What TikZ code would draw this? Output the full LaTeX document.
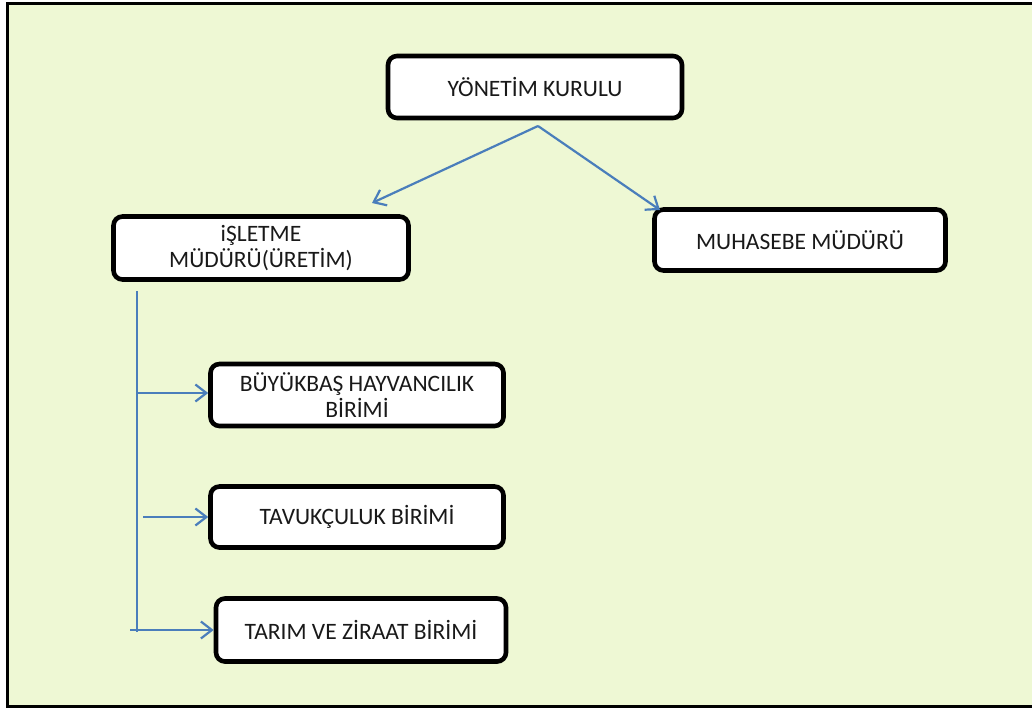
\documentclass[tikz,border=0pt]{standalone}
\usepackage{fontspec}
\setmainfont{Carlito}
\usetikzlibrary{arrows.meta}
\definecolor{bgGreen}{RGB}{238,248,212}
\definecolor{linkBlue}{RGB}{74,126,187}
\definecolor{inkGray}{RGB}{25,25,25}
\tikzset{
  unit/.style={draw=black,line width=4.6pt,fill=white,rounded corners=9pt,
    text=inkGray,font=\fontsize{23.5}{26}\selectfont,align=center,inner sep=0pt},
  link/.style={draw=linkBlue,line width=2.2pt,->,>={Straight Barb[length=11pt,width=17pt,line width=2.2pt]}}
}
\begin{document}
\begin{tikzpicture}[x=1pt,y=-1pt]
\useasboundingbox (0,0) rectangle (1032,709);
\fill[bgGreen] (7,4) rectangle (1032,706);
\draw[line width=3pt] (1032,4) -- (7,4) -- (7,706) -- (1032,706);
% boxes
\node[unit,minimum width=294pt,minimum height=62pt] (board) at (535,87) {YÖNETİM KURULU};
\node[unit,minimum width=295pt,minimum height=63pt] (plant) at (261,248) {iŞLETME\\MÜDÜRÜ(ÜRETİM)};
\node[unit,minimum width=291pt,minimum height=61pt] (acct) at (800,240) {MUHASEBE MÜDÜRÜ};
\node[unit,minimum width=293pt,minimum height=62pt] (cattle) at (357,395) {BÜYÜKBAŞ HAYVANCILIK\\BİRİMİ};
\node[unit,minimum width=293pt,minimum height=61pt] (poultry) at (357,517) {TAVUKÇULUK BİRİMİ};
\node[unit,minimum width=290pt,minimum height=63pt] (farm) at (361,630) {TARIM VE ZİRAAT BİRİMİ};
% top arrows
\coordinate (fork) at (538,126);
\coordinate (plantTip) at (372,203);
\coordinate (acctTip) at (660,210);
\draw[link] (fork) -- (plantTip);
\draw[link] (fork) -- (acctTip);
% spine and branches
\coordinate (spineTop) at (137,291);
\coordinate (spineEnd) at (137,632);
\draw[linkBlue,line width=2.2pt] (spineTop) -- (spineEnd);
\draw[link] (137,393) -- (cattle.west |- 0,393);
\draw[link] (143,517) -- (poultry.west);
\draw[link] (130,630) -- (farm.west);
\end{tikzpicture}
\end{document}
